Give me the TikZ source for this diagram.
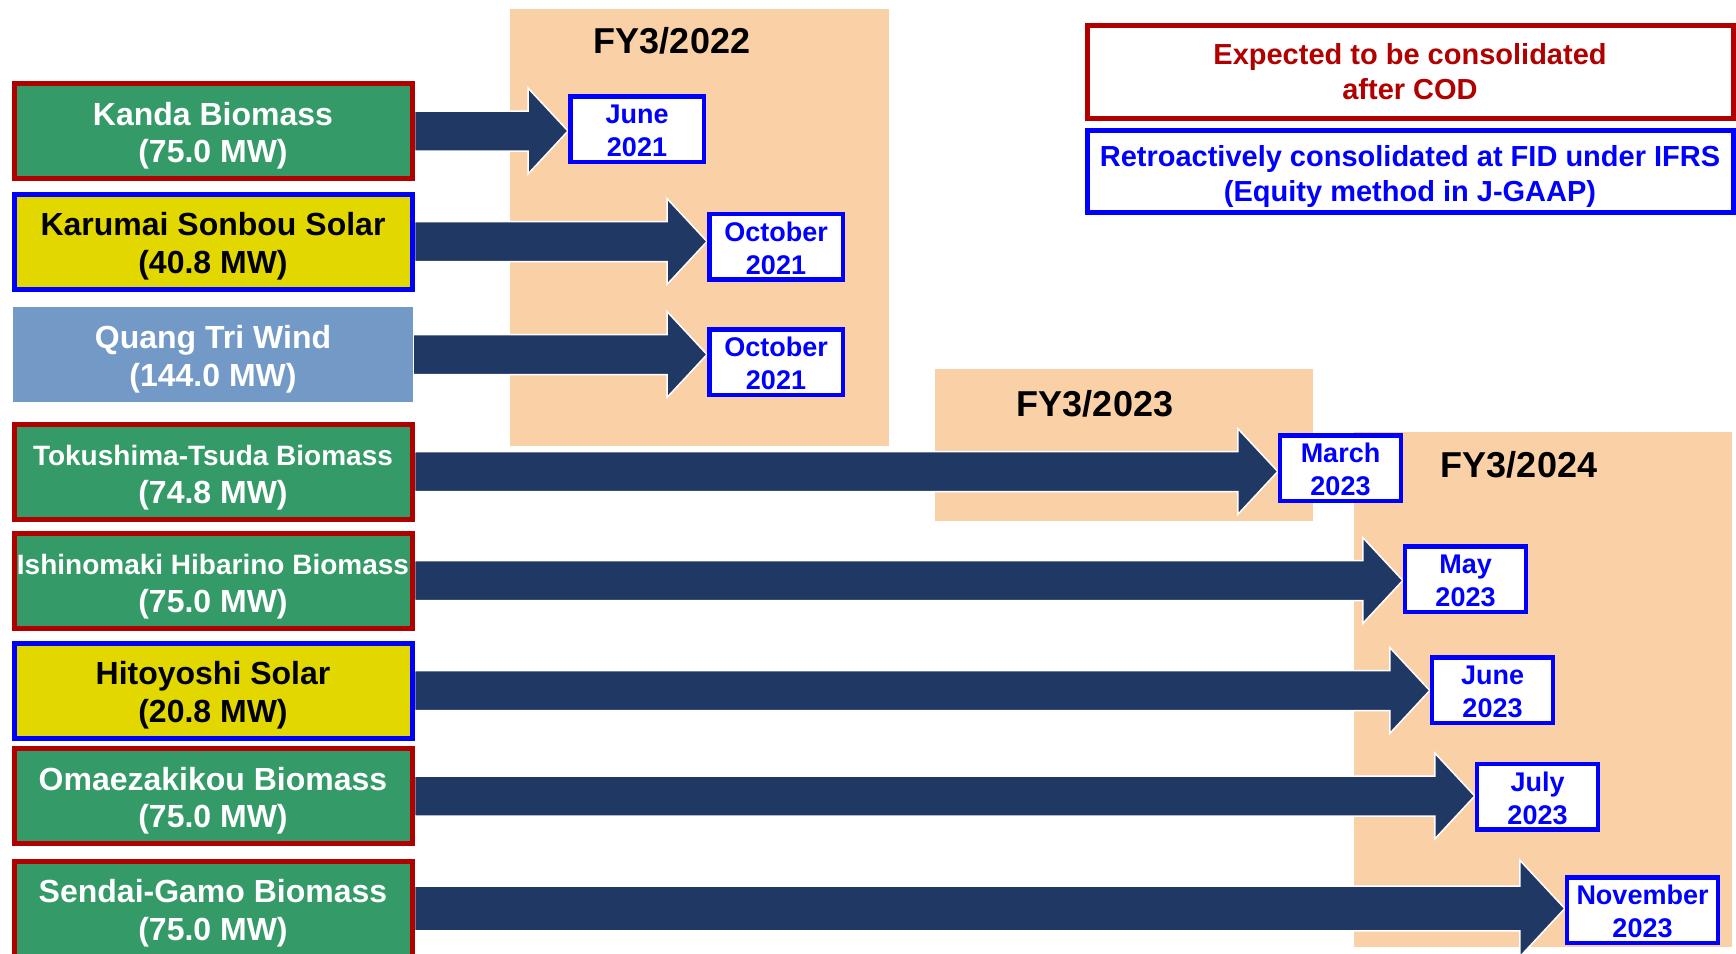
\documentclass[tikz,border=0pt]{standalone}
\usepackage{fontspec}
\setmainfont{Liberation Sans}
\definecolor{Gcol}{HTML}{349A68}
\definecolor{Rcol}{HTML}{B00000}
\definecolor{Ycol}{HTML}{E2D800}
\definecolor{Bcol}{HTML}{0000FF}
\definecolor{Wcol}{HTML}{7399C6}
\definecolor{Pcol}{HTML}{FAD0A6}
\definecolor{Acol}{HTML}{203864}
\usetikzlibrary{calc, arrows.meta, positioning}
\pgfdeclarelayer{bg}
\pgfdeclarelayer{mid}
\pgfsetlayers{bg,mid,main}
\tikzset{
    >=Stealth,
    font=\bfseries,
    plant/.style={minimum width=398pt, minimum height=95pt, inner sep=0pt, line width=5pt,
        text height=70pt, text depth=7pt,
        align=center, font=\fontsize{32}{37.5}\selectfont\bfseries},
    biomass/.style={plant, fill=Gcol, draw=Rcol, text=white},
    solar/.style={plant, fill=Ycol, draw=Bcol, text=black},
    wind/.style={plant, fill=Wcol, minimum width=400pt, outer sep=0pt, text=white},
    datebox/.style={fill=white, draw=Bcol, line width=4.5pt, inner sep=0pt, minimum width=121pt,
        minimum height=65.5pt, text height=55pt, text depth=0pt,
        align=center, text=Bcol, font=\fontsize{27}{33}\selectfont\bfseries},
    fylabel/.style={font=\fontsize{36}{40}\selectfont\bfseries},
    legendbox/.style={fill=white, line width=5pt, minimum width=646pt, minimum height=93pt,
        inner sep=0pt, align=center, font=\fontsize{29}{35}\selectfont\bfseries}
}
% block arrow from a plant box to its date box
\newcommand{\codarrow}[3][1]{%
    \fill[Acol, draw=white, line width=1.5pt]
        let \p1=(#2.east), \p2=(#3.west) in
        (\x1,\y1+20pt*#1) -- (\x2-40pt*#1,\y1+20pt*#1) -- (\x2-40pt*#1,\y1+43pt*#1)
        -- (\x2,\y1) -- (\x2-40pt*#1,\y1-43pt*#1) -- (\x2-40pt*#1,\y1-20pt*#1)
        -- (\x1,\y1-20pt*#1) -- cycle;
}

\begin{document}
\begin{tikzpicture}[x=1pt, y=-1pt]
    \useasboundingbox (0,0) rectangle (1736,953);

    % fiscal year bands
    \begin{pgfonlayer}{bg}
        \fill[Pcol] (510,9) rectangle (889,446);
        \fill[Pcol] (935,369) rectangle (1313,521);
        \fill[Pcol] (1354,432) rectangle (1732,947);
    \end{pgfonlayer}
    \node[fylabel] (fy22) at (672,41) {FY3/2022};
    \node[fylabel] (fy23) at (1095,404) {FY3/2023};
    \node[fylabel] (fy24) at (1519,465) {FY3/2024};

    % legend
    \node[legendbox, draw=Rcol, text=Rcol] (expected) at (1410,71.5) {Expected to be consolidated\\after COD};
    \node[legendbox, draw=Bcol, text=Bcol, minimum height=82pt, text height=65pt, text depth=6pt]
        (retro) at (1410,171.5) {Retroactively consolidated at FID under IFRS\\(Equity method in J-GAAP)};

    % plants
    \node[biomass] (kanda) at (213,131) {Kanda Biomass\\(75.0 MW)};
    \node[solar] (karumai) at (213,241.5) {Karumai Sonbou Solar\\(40.8 MW)};
    \node[wind] (quangtri) at (213,354.5) {Quang Tri Wind\\(144.0 MW)};
    \node[biomass] (tokushima) at (213,471.5) {{\fontsize{28}{37.5}\selectfont Tokushima-Tsuda Biomass}\\(74.8 MW)};
    \node[biomass] (ishinomaki) at (213,580.5) {{\fontsize{28}{37.5}\selectfont Ishinomaki Hibarino Biomass}\\(75.0 MW)};
    \node[solar] (hitoyoshi) at (213,690.5) {Hitoyoshi Solar\\(20.8 MW)};
    \node[biomass] (omaezaki) at (213,796) {Omaezakikou Biomass\\(75.0 MW)};
    \node[biomass] (sendai) at (213,908.5) {Sendai-Gamo Biomass\\(75.0 MW)};

    % dates of COD
    \node[datebox, minimum width=133.5pt] (jun21) at (637,129) {June\\2021};
    \node[datebox, minimum width=133.5pt] (oct21a) at (776,246.5) {October\\2021};
    \node[datebox, minimum width=133.5pt] (oct21b) at (776,362) {October\\2021};
    \node[datebox] (mar23) at (1340.5,468) {March\\2023};
    \node[datebox] (may23) at (1465.5,579) {May\\2023};
    \node[datebox] (jun23) at (1492.5,690) {June\\2023};
    \node[datebox] (jul23) at (1537.5,796.5) {July\\2023};
    \node[datebox, minimum width=151pt] (nov23) at (1642.5,910) {November\\2023};

    % arrows
    \begin{pgfonlayer}{mid}
        \codarrow{kanda}{jun21}
        \codarrow{karumai}{oct21a}
        \codarrow{quangtri}{oct21b}
        \codarrow{tokushima}{mar23}
        \codarrow{ishinomaki}{may23}
        \codarrow{hitoyoshi}{jun23}
        \codarrow{omaezaki}{jul23}
        \codarrow[1.12]{sendai}{nov23}
    \end{pgfonlayer}
\end{tikzpicture}
\end{document}
